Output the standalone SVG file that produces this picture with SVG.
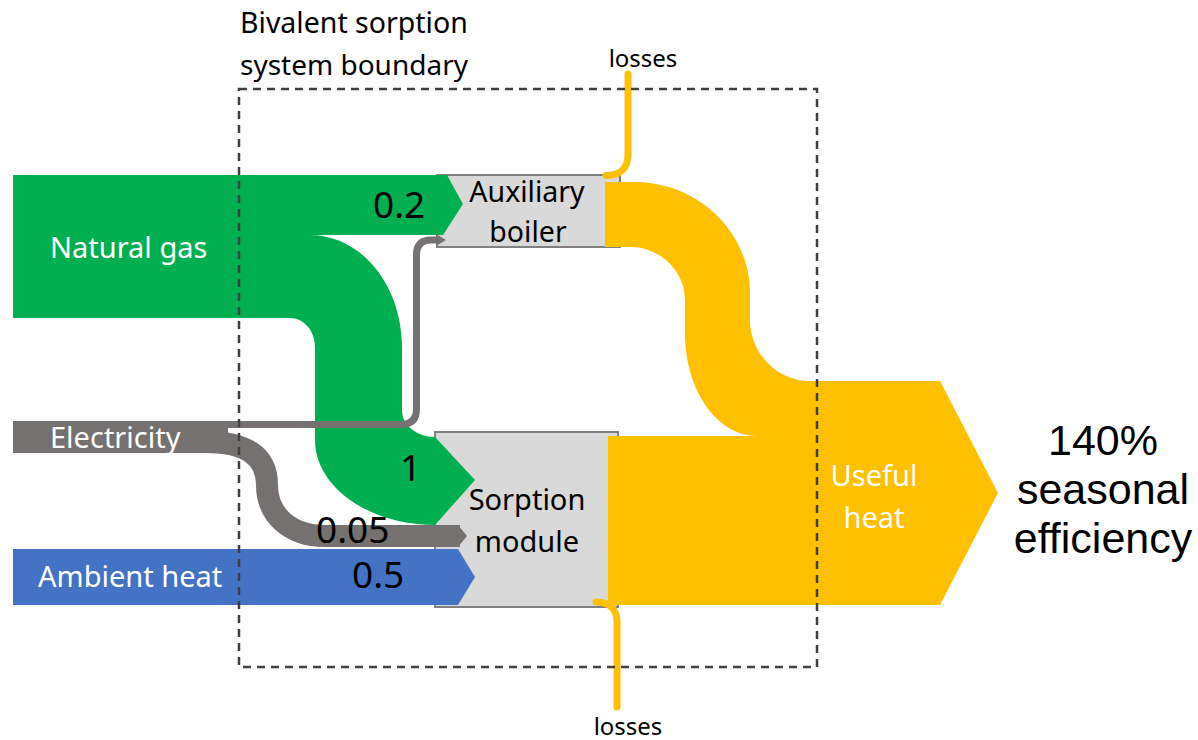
<svg xmlns="http://www.w3.org/2000/svg" width="1198" height="740" viewBox="0 0 1198 740">
<style>
.lbl{font-family:"Noto Sans","Open Sans",sans-serif;fill:#000}
.wl{font-family:"Noto Sans","Open Sans",sans-serif;fill:#fff;font-size:29px}
.num{font-family:"Noto Sans","Open Sans",sans-serif;fill:#000;font-size:37px}
.box{fill:#d9d9d9;stroke:#808080;stroke-width:2}
.green{fill:#00b050}
.yellow{fill:#ffc000}
.grey{fill:#767171}
.blue{fill:#4472c4}
.loss{fill:none;stroke:#ffc000;stroke-width:7;stroke-linecap:round}
.big{font-family:"Liberation Sans",Arial,sans-serif;font-size:43px;fill:#000;text-anchor:middle}
</style>
<rect width="1198" height="740" fill="#fff"/>
<g id="aux-boiler">
<rect class="box" x="437" y="175" width="183" height="72"/>
</g>
<g id="sorption-module">
<rect class="box" x="435" y="432" width="183" height="175"/>
</g>
<g id="connectors">
<path class="green" d="M13,175 H447 L463,204 L443,235 H310 C361,235 402,285 402,347 V410 C402,426 418,437 435,437 L475,480 L435,525 C369,525 315,487 315,440 V347 C315,331 304,318 290,318 H13 Z"/>
<path class="yellow" d="M605,182 H635 C698,182 750,232 750,293 V320 C750,353 777,381 810,381 H940 L998,493 L940,605 H608 V436 H757 C717,436 685,390 685,333 V300 C685,271 660,247 630,247 H605 Z"/>
<path class="blue" d="M13,549 H458 L475,577 L458,605 H13 Z"/>
<rect class="grey" x="13" y="421" width="215" height="32"/>
<path fill="none" stroke="#767171" stroke-width="22" d="M205,442 C245,442 267,455 267,485 C267,515 290,536 325,536 H460"/>
<polygon class="grey" points="458,525 467,536 458,547"/>
<path fill="none" stroke="#767171" stroke-width="7" d="M205,424.5 H401 Q416.5,424.5 416.5,409 V255 Q416.5,240 431,240 H440"/>
<polygon class="grey" points="436,234 446,240 436,246"/>
<path class="loss" d="M606,175.5 C620,175.5 628,168 628,155 V74"/>
<path class="loss" d="M596,602 C610,602 617,610 617,622 V707"/>
</g>
<g id="boundary">
<rect x="239" y="89" width="578" height="578" fill="none" stroke="#404040" stroke-width="2.5" stroke-dasharray="8,6"/>
<text class="lbl" x="240" y="33" font-size="28.5">Bivalent sorption</text>
<text class="lbl" x="240" y="75" font-size="28">system boundary</text>
</g>
<g id="natural-gas">
<text class="wl" x="50" y="258">Natural gas</text>
<text class="num" x="373" y="218">0.2</text>
</g>
<g id="electricity">
<text class="wl" x="50" y="448">Electricity</text>
<text class="num" x="316" y="543">0.05</text>
</g>
<g id="ambient-heat">
<text class="wl" x="38" y="587">Ambient heat</text>
<text class="num" x="352" y="588">0.5</text>
</g>
<g id="gas-to-sorption">
<text class="num" x="400" y="481">1</text>
</g>
<g id="aux-boiler-label">
<text class="lbl" x="527" y="202" font-size="28.5" text-anchor="middle">Auxiliary</text>
<text class="lbl" x="528" y="242" font-size="28.5" text-anchor="middle">boiler</text>
</g>
<g id="sorption-label">
<text class="lbl" x="527" y="510" font-size="29" text-anchor="middle">Sorption</text>
<text class="lbl" x="527" y="552" font-size="29" text-anchor="middle">module</text>
</g>
<g id="losses-top">
<text class="lbl" x="643" y="67" font-size="24" text-anchor="middle">losses</text>
</g>
<g id="losses-bottom">
<text class="lbl" x="628" y="735" font-size="24" text-anchor="middle">losses</text>
</g>
<g id="useful-heat">
<text class="wl" x="874" y="486" text-anchor="middle">Useful</text>
<text class="wl" x="874" y="528" text-anchor="middle">heat</text>
</g>
<g id="efficiency">
<text class="big" x="1103" y="455">140%</text>
<text class="big" x="1103" y="504">seasonal</text>
<text class="big" x="1103" y="553">efficiency</text>
</g>
</svg>
